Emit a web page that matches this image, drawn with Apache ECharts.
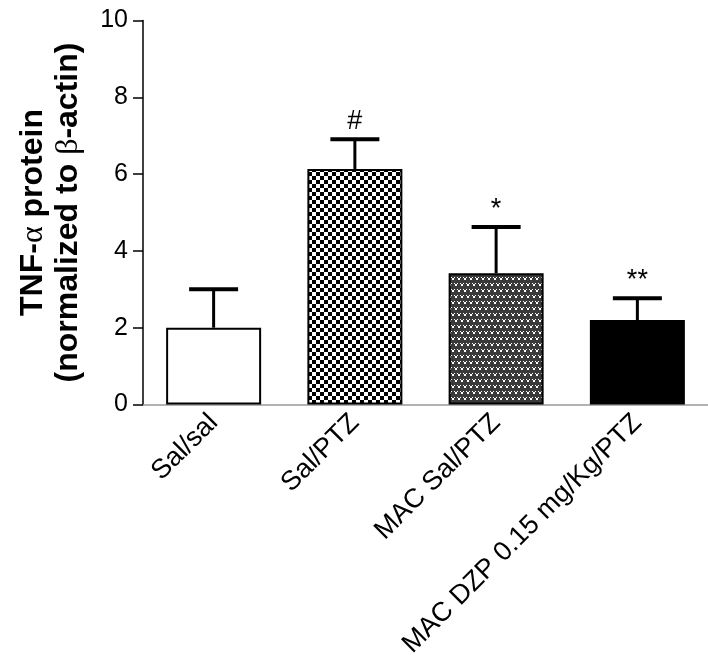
<!DOCTYPE html>
<html>
<head>
<meta charset="utf-8">
<script src="https://cdn.jsdelivr.net/npm/echarts@6/dist/echarts.min.js"></script>
<style>
  html, body { margin: 0; padding: 0; background: #fff; }
  #chart { width: 708px; height: 668px; }
</style>
</head>
<body>
<div id="chart"></div>
<script>
// Groups, mean TNF-alpha levels, SEM and significance marks
const categories = ['Sal/sal', 'Sal/PTZ', 'MAC Sal/PTZ', 'MAC DZP 0.15 mg/Kg/PTZ'];
const means = [2.0, 6.13, 3.42, 2.2];
const sem = [1.0, 0.78, 1.2, 0.57];
const marks = ['', '#', '*', '**'];
const yTicks = [0, 2, 4, 6, 8, 10];

// Fill patterns for the bars
function checkerTile() {
  const c = document.createElement('canvas');
  c.width = 8; c.height = 8;
  const g = c.getContext('2d');
  g.fillStyle = '#fff'; g.fillRect(0, 0, 8, 8);
  g.fillStyle = '#000';
  g.fillRect(0, 0, 4, 4);
  g.fillRect(4, 4, 4, 4);
  return c;
}
function vTile() {
  const c = document.createElement('canvas');
  c.width = 12; c.height = 12;
  const g = c.getContext('2d');
  g.fillStyle = '#3a3a3a'; g.fillRect(0, 0, 12, 12);
  g.fillStyle = '#fff';
  const v = (x, y) => {
    g.fillRect(x, y, 1, 1);
    g.fillRect(x + 3, y, 1, 1);
    g.fillRect(x + 1, y + 1, 2, 2);
  };
  v(1, 1); v(7, 1);
  v(4, 7); v(10, 7); v(-2, 7);
  return c;
}

const fills = [
  '#ffffff',
  { image: checkerTile(), repeat: 'repeat' },
  { image: vTile(), repeat: 'repeat' },
  '#000000'
];

const barData = means.map((v, i) => ({
  value: v,
  itemStyle: { color: fills[i] }
}));

const errData = means.map((v, i) => [i, v, v + sem[i], marks[i]]);

const chart = echarts.init(document.getElementById('chart'), null, { renderer: 'canvas' });

const sans = 'Liberation Sans, Arial, sans-serif';

chart.setOption({
  animation: false,
  backgroundColor: '#fff',
  grid: { left: 143, top: 20.5, bottom: 263.5, width: 572, containLabel: false },
  xAxis: {
    type: 'category',
    data: categories,
    axisLine: { lineStyle: { color: '#999', width: 1.5 } },
    axisTick: { show: false },
    axisLabel: {
      rotate: 45,
      margin: 14,
      color: '#000',
      fontFamily: sans,
      fontSize: 27,
      interval: 0
    }
  },
  yAxis: {
    type: 'value',
    min: yTicks[0],
    max: yTicks[yTicks.length - 1],
    interval: 2,
    splitLine: { show: false },
    axisLine: { show: true, lineStyle: { color: '#000', width: 1.5 } },
    axisTick: { show: true, length: 10, lineStyle: { color: '#000', width: 1.5 } },
    axisLabel: {
      margin: 15,
      color: '#000',
      fontFamily: sans,
      fontSize: 25
    },
    name: '{b|TNF-}{g|\u03b1}{b| protein}\n{b|(normalized to }{g|\u03b2}{b|-actin)}',
    nameLocation: 'middle',
    nameRotate: 90,
    nameGap: 57,
    nameTextStyle: {
      color: '#000',
      lineHeight: 35,
      rich: {
        b: { fontFamily: sans, fontWeight: 'bold', fontSize: 32, color: '#000', lineHeight: 35 },
        g: { fontFamily: 'Liberation Serif, Times New Roman, serif', fontWeight: 'normal', fontSize: 32, color: '#000', lineHeight: 35 }
      }
    }
  },
  series: [
    {
      type: 'bar',
      data: barData,
      barWidth: 95,
      itemStyle: { borderColor: '#000', borderWidth: 2 },
      z: 2
    },
    {
      type: 'custom',
      data: errData,
      z: 3,
      renderItem: function (params, api) {
        const base = api.coord([api.value(0), api.value(1)]);
        const top = api.coord([api.value(0), api.value(2)]);
        const half = 24.5;
        const label = errData[params.dataIndex][3];
        const children = [
          { type: 'line', shape: { x1: base[0], y1: base[1], x2: top[0], y2: top[1] },
            style: { stroke: '#000', lineWidth: 3 } },
          { type: 'line', shape: { x1: top[0] - half, y1: top[1], x2: top[0] + half, y2: top[1] },
            style: { stroke: '#000', lineWidth: 4 } }
        ];
        if (label) {
          children.push({
            type: 'text',
            style: {
              text: label,
              x: top[0], y: top[1] - 4,
              align: 'center', verticalAlign: 'bottom',
              font: '27px "Liberation Sans", Arial, sans-serif',
              fill: '#000'
            }
          });
        }
        return { type: 'group', children: children };
      }
    }
  ]
});
</script>
</body>
</html>
